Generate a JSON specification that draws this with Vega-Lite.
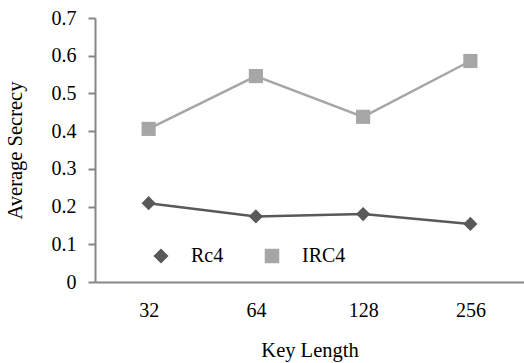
{
  "$schema": "https://vega.github.io/schema/vega-lite/v6.json",
  "width": 429,
  "height": 264,
  "autosize": {"type": "none"},
  "padding": {"left": 95, "top": 18, "right": 0, "bottom": 81},
  "background": "white",
  "config": {
    "view": {"stroke": null},
    "font": "Liberation Serif",
    "axis": {"labelFont": "Liberation Serif", "titleFont": "Liberation Serif", "labelFontSize": 20, "titleFontSize": 20.5, "labelColor": "#000", "titleColor": "#000", "titleFontWeight": "normal", "grid": false, "domainColor": "#868686", "domainWidth": 2, "tickColor": "#868686", "tickWidth": 2},
    "legend": {"labelFont": "Liberation Serif", "labelFontSize": 20, "labelColor": "#000"}
  },
  "data": {
    "values": [
      {"key": "32", "series": "Rc4", "value": 0.209},
      {"key": "64", "series": "Rc4", "value": 0.174},
      {"key": "128", "series": "Rc4", "value": 0.180},
      {"key": "256", "series": "Rc4", "value": 0.154},
      {"key": "32", "series": "IRC4", "value": 0.406},
      {"key": "64", "series": "IRC4", "value": 0.546},
      {"key": "128", "series": "IRC4", "value": 0.438},
      {"key": "256", "series": "IRC4", "value": 0.586}
    ]
  },
  "encoding": {
    "x": {"field": "key", "type": "ordinal", "sort": ["32", "64", "128", "256"], "scale": {"type": "point", "padding": 0.5},
      "axis": {"title": "Key Length", "labelAngle": 0, "ticks": false, "labelPadding": 18, "titlePadding": 20}},
    "y": {"field": "value", "type": "quantitative", "scale": {"domain": [0, 0.7]},
      "axis": {"title": "Average Secrecy", "values": [0, 0.1, 0.2, 0.3, 0.4, 0.5, 0.6, 0.7], "format": ".1~f", "tickSize": 7, "labelPadding": 12, "titlePadding": 26}},
    "color": {"field": "series", "type": "nominal", "sort": ["Rc4", "IRC4"], "scale": {"domain": ["Rc4", "IRC4"], "range": ["#595959", "#A6A6A6"]},
      "legend": {"orient": "none", "direction": "horizontal", "legendX": 56, "legendY": 228, "title": null, "symbolSize": 169, "labelOffset": 20, "columnPadding": 38}}
  },
  "layer": [
    {"mark": {"type": "line", "strokeWidth": 2.5}, "encoding": {"detail": {"field": "series"}}},
    {"mark": {"type": "point", "filled": true, "opacity": 1, "size": 200}, "encoding": {
      "shape": {"field": "series", "type": "nominal", "scale": {"domain": ["Rc4", "IRC4"], "range": ["diamond", "square"]}, "legend": null}}}
  ]
}
